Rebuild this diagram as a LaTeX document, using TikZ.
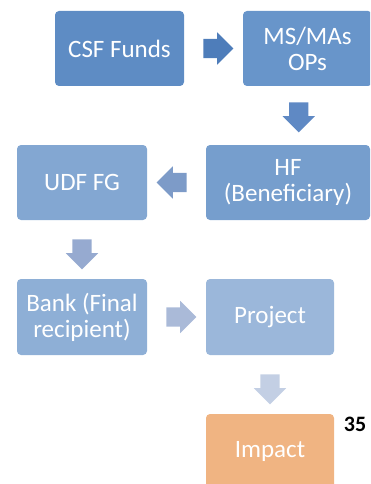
\documentclass[tikz,border=0pt]{standalone}
\usepackage{fontspec}
\setmainfont{Carlito}
\usepackage{tikz}
\usetikzlibrary{shapes,arrows,positioning,calc}

\definecolor{csfblue}{RGB}{94,140,196}
\definecolor{msblue}{RGB}{104,149,202}
\definecolor{hfblue}{RGB}{118,158,205}
\definecolor{udfblue}{RGB}{131,167,210}
\definecolor{bankblue}{RGB}{142,175,214}
\definecolor{projblue}{RGB}{155,183,218}
\definecolor{impactorange}{RGB}{240,180,130}
\definecolor{arrA}{RGB}{78,125,186}
\definecolor{arrB}{RGB}{95,137,196}
\definecolor{arrC}{RGB}{125,155,200}
\definecolor{arrD}{RGB}{150,170,208}
\definecolor{arrE}{RGB}{170,186,216}
\definecolor{arrF}{RGB}{195,207,228}

\tikzset{
    box/.style={rectangle, rounded corners=4pt, draw=none, text=white, align=center,
        minimum width=129pt, minimum height=75pt, inner sep=2pt,
        font=\fontsize{25}{26}\selectfont},
    blockarrow/.style={single arrow, draw=none, inner sep=9.5pt,
        minimum height=30pt, single arrow head extend=6.5pt}
}

\begin{document}
\begin{tikzpicture}[x=1pt,y=-1pt]
    \clip (0,0) rectangle (370,484);

    % Boxes
    \node[box, fill=csfblue] (csf) at (119.5,48.5) {CSF Funds};
    \node[box, fill=msblue] (ms) at (307.5,48.5) {MS/MAs\\OPs};
    \node[box, fill=hfblue, minimum width=164pt] (hf) at (288,182.5) {HF\\(Beneficiary)};
    \node[box, fill=udfblue, minimum width=130pt] (udf) at (82,182.5) {UDF FG};
    \node[box, fill=bankblue, minimum width=130pt, minimum height=76pt] (bank) at (82,317) {Bank (Final\\recipient)};
    \node[box, fill=projblue, minimum width=128pt, minimum height=76pt] (proj) at (270,317) {Project};
    \node[box, fill=impactorange, minimum width=128pt] (impact) at (270,451.5) {Impact};

    % Block arrows between the boxes
    \node[blockarrow, fill=arrA] (a1) at ($(csf.east)!0.5!(ms.west)$) {};
    \node[blockarrow, fill=arrB, shape border rotate=270] (a2) at ($(ms.south)!0.45!(hf.north)$) {};
    \node[blockarrow, fill=arrC, shape border rotate=180] (a3) at ($(hf.west)!0.5!(udf.east)$) {};
    \node[blockarrow, fill=arrD, shape border rotate=270] (a4) at ($(udf.south)!0.5!(bank.north)$) {};
    \node[blockarrow, fill=arrE] (a5) at ($(bank.east)!0.5!(proj.west)$) {};
    \node[blockarrow, fill=arrF, shape border rotate=270] (a6) at ($(proj.south)!0.5!(impact.north)$) {};

    % Slide number
    \node[font=\fontsize{22}{24}\selectfont\bfseries] (num) at (355,424.5) {35};
\end{tikzpicture}
\end{document}
